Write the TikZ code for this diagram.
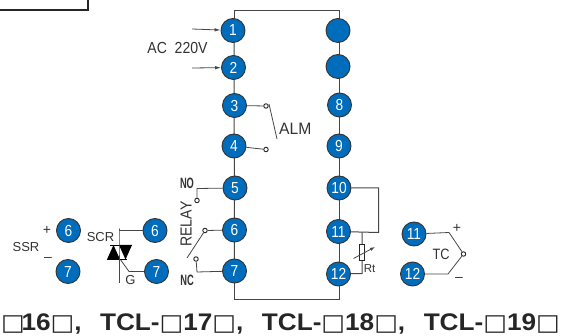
\documentclass[tikz,border=0pt]{standalone}
\usepackage{fontspec}
\setmainfont{Liberation Sans}
\newfontfamily\boxfont{DejaVu Sans}
\usetikzlibrary{arrows.meta}
\definecolor{termblue}{RGB}{0,108,188}
\definecolor{wire}{RGB}{70,70,70}
\definecolor{lab}{RGB}{50,50,50}
\newcommand{\sq}{{\boxfont\fontsize{23}{23}\selectfont\mdseries □}}
\newcommand{\tn}[1]{\scalebox{.86}[1]{#1}}
\newcommand{\cm}{,\hspace{17pt}}
\tikzset{
  term/.style={circle,draw=black!80,line width=.9pt,fill=termblue,text=white,minimum size=24pt,inner sep=0pt,font=\fontsize{16}{16}\selectfont},
  wireline/.style={draw=wire,line width=1pt},
  thin wire/.style={draw=wire,line width=.8pt},
  contact/.style={circle,draw=black!85,fill=white,line width=.9pt,minimum size=4.5pt,inner sep=0pt},
  lbl/.style={text=lab,inner sep=0pt,font=\fontsize{14}{14}\selectfont},
  narrow/.style={text=lab,inner sep=0pt,font=\fontsize{15}{15}\selectfont},
  sensor/.style={draw=black!85,fill=white,line width=.8pt,minimum width=5.5pt,minimum height=16pt,inner sep=0pt},
  arr/.style={thin wire,-{Latex[length=6pt,width=3.5pt]}}
}
\begin{document}
\begin{tikzpicture}[x=1pt,y=-1pt]
\useasboundingbox (0,0) rectangle (570,336);
% top-left fragment
\draw[black!85,line width=2pt] (0,10) -- (88,10) -- (88,0);
% frame
\coordinate (tl) at (234,10.5);
\coordinate (tr) at (339,10.5);
\coordinate (bl) at (234.5,300);
\coordinate (br) at (339,300);
\draw[wireline] (234,30) -- (tl) -- (tr) -- (339,30);
\draw[wireline] (234.5,271) -- (bl) -- (br) -- (339,274);
\draw[wireline] (234,30) -- (234.5,271);
\draw[wireline] (339,30) -- (339,274);
% left column
\node[term] (a1) at (233,30.5) {\tn{1}};
\node[term] (a2) at (233.5,67.5) {\tn{2}};
\node[term] (a3) at (234.5,105.5) {\tn{3}};
\node[term] (a4) at (234,146) {\tn{4}};
\node[term] (a5) at (235,188) {\tn{5}};
\node[term] (a6) at (234.5,230) {\tn{6}};
\node[term] (a7) at (234.5,271) {\tn{7}};
% right column
\node[term] (b1) at (338,30.5) {};
\node[term] (b2) at (338,66.5) {};
\node[term] (b3) at (339.5,105) {\tn{8}};
\node[term] (b4) at (339,146) {\tn{9}};
\node[term] (b5) at (339,188) {\tn{10}};
\node[term] (b6) at (338.5,231.5) {\tn{11}};
\node[term] (b7) at (338.5,274) {\tn{12}};
% AC
\coordinate (f1) at (192,29);
\coordinate (f2) at (192,68);
\draw[arr] (f1) -- (a1);
\draw[arr] (f2) -- (a2);
\node[lbl,font=\fontsize{16}{16}\selectfont] (ac) at (177.5,48) {\scalebox{.88}[1]{AC\ \ 220V}};
% ALM
\node[contact] (c3) at (266,106) {};
\node[contact] (c4) at (266,149.5) {};
\draw[thin wire] (a3) -- (c3);
\draw[thin wire] (a4) -- (c4);
\coordinate (alm) at (277,139);
\draw[thin wire] (269,104) -- (alm);
\node[lbl,font=\fontsize{16.5}{17}\selectfont,anchor=west] (almt) at (279,129) {\scalebox{.95}[1]{ALM}};
% relay
\node[contact] (no) at (197,200.5) {};
\node[contact] (c6) at (205,230.5) {};
\node[contact] (nc) at (196,259) {};
\coordinate (sw) at (187,258);
\draw[thin wire] (no) -- (197,188.5) -- (a5);
\draw[thin wire] (c6) -- (a6);
\draw[thin wire] (nc) -- (197,272) -- (a7);
\draw[thin wire] (sw) -- (c6);
\node[narrow] (tno) at (187,183) {\scalebox{.62}[1]{\textbf{NO}}};
\node[narrow] (tnc) at (187,280) {\scalebox{.62}[1]{\textbf{NC}}};
\node[lbl,rotate=90,font=\fontsize{16}{16}\selectfont] (trel) at (186,224) {\scalebox{.88}[1]{RELAY}};
% SSR
\node[term] (s6) at (68.5,230.5) {\tn{6}};
\node[term] (s7) at (68,271.5) {\tn{7}};
\node[lbl,font=\fontsize{13}{13}\selectfont] (ssr) at (26,247.5) {SSR};
\node[lbl,font=\fontsize{14}{14}\selectfont] (sp) at (47,230) {+};
\node[lbl,font=\fontsize{14}{14}\selectfont] (sm) at (48,259.5) {–};
% SCR
\node[term] (r6) at (155,230.5) {\tn{6}};
\node[term] (r7) at (156.5,271.5) {\tn{7}};
\coordinate (sa) at (119,228.5);
\coordinate (sb) at (119,283);
\coordinate (sg) at (129,271.5);
\draw[thin wire] (r7) -- (sg) -- (120,259);
\fill[black] (107,259.5) -- (120,259.5) -- (113.5,245) -- cycle;
\fill[black] (119,245) -- (132,245) -- (125.5,259.5) -- cycle;
\draw[black,line width=.8pt] (110,245) -- (132,245);
\draw[black,line width=.8pt] (107,259.5) -- (127,259.5);
\draw[thin wire] (r6) -- (sa |- r6) -- (sa) -- (sb);
\node[lbl,font=\fontsize{13}{13}\selectfont] (scr) at (100.5,237.5) {SCR};
\node[lbl,font=\fontsize{13}{13}\selectfont] (g) at (130.5,280) {G};
% Rt
\coordinate (r10) at (378.5,188);
\coordinate (r11) at (378.5,232.5);
\coordinate (rt) at (362,232.5);
\coordinate (rb) at (362,273.5);
\draw[wireline] (b5) -- (r10) -- (r11) -- (b6);
\draw[wireline] (rt) -- (rb) -- (b7);
\node[sensor] (res) at (362,252) {};
\draw[thin wire,-{Latex[length=5pt,width=3.5pt]}] (353.5,258.5) -- (375,247);
\node[lbl,font=\fontsize{11.5}{12}\selectfont] (trt) at (369.5,269) {Rt};
% TC
\node[term] (t11) at (414,234) {\tn{11}};
\node[term] (t12) at (412.5,274) {\tn{12}};
\node[contact] (tj) at (463.5,254) {};
\coordinate (tu) at (449,232.5);
\coordinate (td) at (448,274);
\draw[thin wire] (t11) -- (tu) -- (tj);
\draw[thin wire] (t12) -- (td) -- (tj);
\node[lbl,font=\fontsize{15}{15}\selectfont] (ttc) at (441,254) {\scalebox{.85}[1]{TC}};
\node[lbl] (tp) at (457,228) {+};
\node[lbl] (tm) at (459,279) {–};
% caption
\node[anchor=east,inner sep=0pt,font=\fontsize{24}{24}\selectfont\bfseries,text=black!85] (cap) at (560,324)
 {\scalebox{1.09}[1]{\sq\hspace{-3pt}16\sq\cm TCL-\sq17\sq\cm TCL-\sq18\sq\cm TCL-\sq19\sq}};
\end{tikzpicture}
\end{document}
